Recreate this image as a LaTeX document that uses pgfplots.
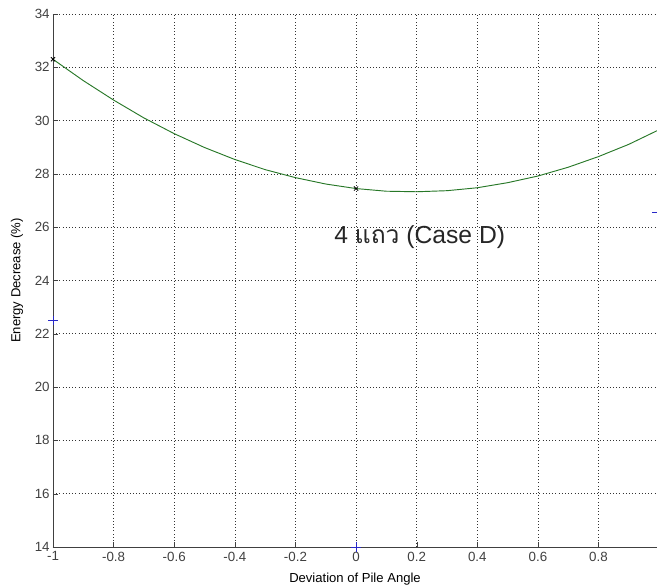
\documentclass[border=0pt]{standalone}
\usepackage{pgfplots}
\pgfplotsset{compat=1.18}
\usepackage{fontspec}
\setmainfont{Liberation Sans}
\newfontfamily\thaifont[Script=Thai]{Loma}
\usetikzlibrary{calc}
\definecolor{curvegreen}{RGB}{40,120,40}
\definecolor{mkblue}{RGB}{40,40,200}
\begin{document}
\begin{tikzpicture}
\begin{axis}[
  scale only axis,
  width=453pt, height=399.75pt,
  xmin=-1, xmax=0.993, ymin=14, ymax=34,
  xtick={-1,-0.8,...,1.0}, ytick={14,16,...,34},
  xticklabels={-1,-0.8,-0.6,-0.4,-0.2,0,0.2,0.4,0.6,0.8,1},
  axis x line*=bottom, axis y line*=left,
  axis line style={black!75, line width=0.6pt},
  tick style={black!75},
  tick align=inside,
  major tick length=4pt,
  grid=major,
  grid style={black!80, dotted, line width=0.5pt},
  /pgf/number format/assume math mode=true,
  ticklabel style={font=\fontsize{10}{12}\selectfont, text=black!75},
  xticklabel style={yshift=0pt},
  yticklabel style={xshift=1pt},
  xlabel={Deviation of Pile Angle},
  ylabel={Energy Decrease (\%)},
  label style={font=\fontsize{9.8}{11}\selectfont},
  xlabel style={yshift=-2pt},
  ylabel style={yshift=2pt},
  clip=false,
]
\addplot[curvegreen, line width=0.7pt] coordinates {
(-1,32.30) (-0.9,31.50) (-0.8,30.77) (-0.7,30.10) (-0.6,29.51) (-0.5,28.99)
(-0.4,28.54) (-0.3,28.16) (-0.2,27.86) (-0.1,27.62) (0,27.45) (0.1,27.35)
(0.2,27.33) (0.3,27.37) (0.4,27.48) (0.5,27.67) (0.6,27.92) (0.7,28.25)
(0.8,28.65) (0.9,29.11) (0.993,29.62)
};
\addplot[only marks, mark=x, mark size=2.2pt, black, line width=0.6pt] coordinates {(-1,32.3) (0,27.45)};
\addplot[only marks, mark=+, mark size=3.5pt, mkblue, line width=0.7pt] coordinates {(-1,22.5) (0,14) (0.993,26.55)};
\node[font=\fontsize{18.5}{21}\selectfont, black!85] at (axis cs:0.21,25.63) {4 {\thaifont แถว} (Case D)};
\end{axis}
\pgfresetboundingbox
\useasboundingbox ($(current axis.south west)+(-39.75pt,-29.25pt)$) rectangle ($(current axis.north east)+(0,10.5pt)$);
\end{tikzpicture}
\end{document}
